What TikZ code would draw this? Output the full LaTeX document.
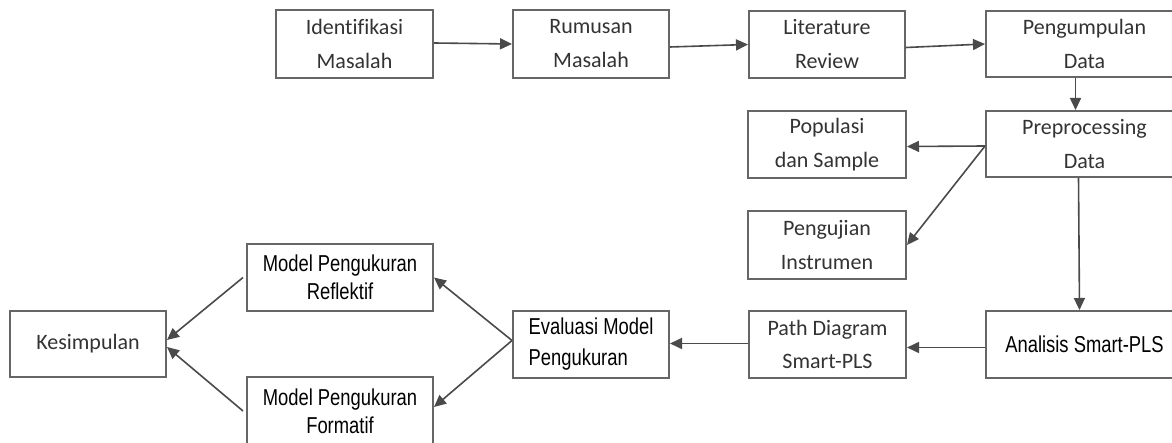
\documentclass[tikz,border=0pt]{standalone}
\usepackage{fontspec}
\setmainfont{Carlito}[Ligatures=NoCommon]
\newfontfamily\narrowfont[FakeStretch=0.8]{Liberation Sans}
\usetikzlibrary{arrows.meta}
\definecolor{boxline}{HTML}{666666}
\definecolor{conn}{HTML}{4A4A4A}
\definecolor{txtgray}{HTML}{333333}
\tikzset{
  box/.style={draw=boxline, line width=2pt, fill=white, anchor=center,
    align=center, inner sep=2pt, text=txtgray,
    font=\fontsize{22}{34}\selectfont},
  nbox/.style={box, text=black, font=\narrowfont\fontsize{23}{31}\selectfont},
  conn/.style={draw=conn, line width=1.6pt,
    -{Triangle[length=12pt,width=11pt]}}
}
\begin{document}
\begin{tikzpicture}[x=1pt,y=-1pt]
\useasboundingbox (0,0) rectangle (1172,443);
\fill[white] (0,0) rectangle (1172,443);
% top row
\node[box, minimum width=157pt, minimum height=68pt] (ident) at (354.5,44) {Identifikasi\\Masalah};
\node[box, minimum width=156pt, minimum height=68pt] (rumus) at (591,44) {Rumusan\\Masalah};
\node[box, minimum width=156pt, minimum height=67pt] (lit) at (827,44.5) {Literature\\Review};
\node[box, minimum width=197pt, minimum height=66pt] (peng) at (1084.5,44) {Pengumpulan\\Data};
% second/third rows
\node[box, minimum width=197pt, minimum height=66pt] (prep) at (1084.5,144) {Preprocessing\\Data};
\node[box, minimum width=158pt, minimum height=67pt] (pop) at (827,144.5) {Populasi\\dan Sample};
\node[box, minimum width=158pt, minimum height=68pt] (uji) at (827,245) {Pengujian\\Instrumen};
% bottom row
\node[nbox, minimum width=197pt, minimum height=67pt] (anal) at (1084.5,344.5) {Analisis Smart-PLS};
\node[box, minimum width=157pt, minimum height=67pt, font=\fontsize{22}{33}\selectfont] (path) at (827.5,344.5) {Path Diagram\\Smart-PLS};
\node[nbox, align=left, minimum width=156pt, minimum height=67pt] (eval) at (591,344.5) {Evaluasi Model\\Pengukuran};
\node[nbox, minimum width=186pt, minimum height=67pt, font=\narrowfont\fontsize{23}{28}\selectfont] (refl) at (340,277.5) {Model Pengukuran\\Reflektif};
\node[nbox, minimum width=186pt, minimum height=68pt, font=\narrowfont\fontsize{23}{28}\selectfont] (form) at (340,411) {Model Pengukuran\\Formatif};
\node[box, minimum width=156pt, minimum height=66pt] (kes) at (88,344) {Kesimpulan};
% connectors
\draw[conn] ([yshift=1pt]ident.east) -- (rumus.west);
\draw[conn] ([yshift=-3pt]rumus.east) -- (lit.west);
\draw[conn] ([yshift=-3pt]lit.east) -- (peng.west);
\draw[conn] ([xshift=-9pt]peng.south) -- ([xshift=-9pt]prep.north);
\draw[conn] ([yshift=-2pt]prep.west) -- ([yshift=-2pt]pop.east);
\draw[conn] ([yshift=-2pt]prep.west) -- (uji.east);
\draw[conn] ([xshift=-6pt]prep.south) -- ([xshift=-5pt]anal.north);
\draw[conn] ([yshift=-3pt]anal.west) -- ([yshift=-3pt]path.west -| path.east);
\draw[conn] ([yshift=1pt]path.west) -- ([yshift=1pt]eval.east);
\draw[conn] ([yshift=4pt]eval.west) -- (refl.east);
\draw[conn] ([yshift=4pt]eval.west) -- ([yshift=4pt]form.east);
\draw[conn] ([xshift=-3pt]refl.west) -- ([yshift=4pt]kes.east);
\draw[conn] ([xshift=-3pt]form.west) -- ([yshift=-3pt]kes.east);
\end{tikzpicture}
\end{document}
